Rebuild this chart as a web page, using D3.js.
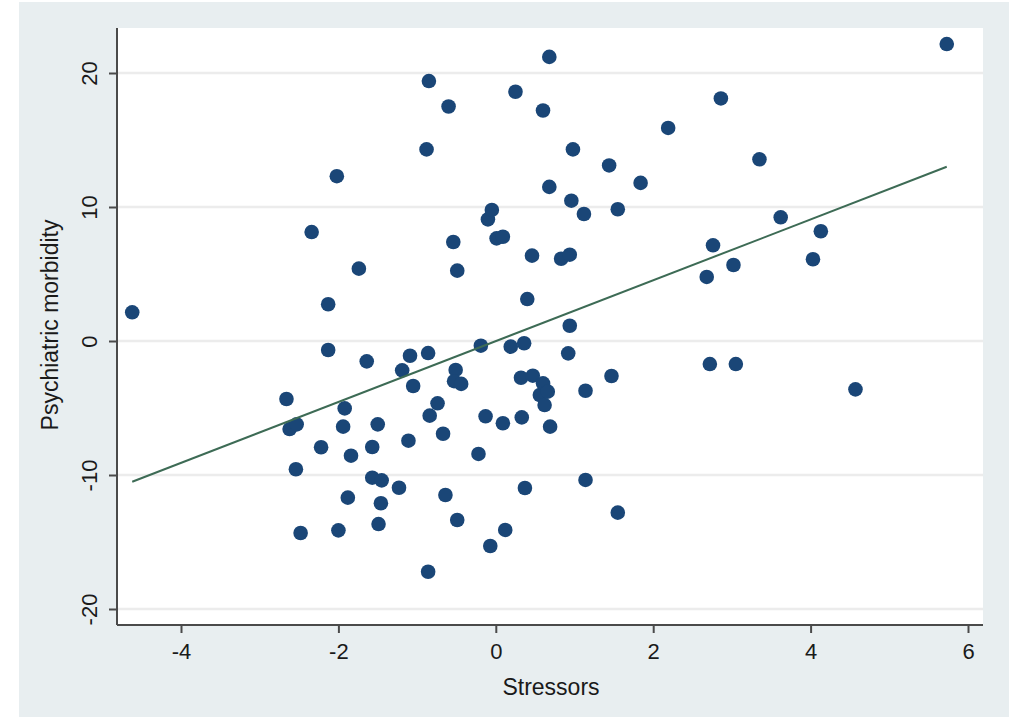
<!DOCTYPE html>
<html>
<head>
<meta charset="utf-8">
<script src="https://cdn.jsdelivr.net/npm/d3@7"></script>
<style>
  html, body { margin: 0; padding: 0; background: #ffffff; }
  svg { display: block; }
  text { font-family: "Liberation Sans", Arial, Helvetica, sans-serif; fill: #1a1a1a; }
</style>
</head>
<body>
<svg id="chart" width="1015" height="719"></svg>
<script>
// Stressors (x) vs psychiatric morbidity (y), with linear fit
const stressors = [
  -4.62, -2.66, -2.62, -2.53, -2.54, -2.48, -2.34, -2.22, -2.13, -2.13,
  -2.02, -2.00, -1.94, -1.92, -1.88, -1.84, -1.74, -1.64, -1.57, -1.57,
  -1.50, -1.49, -1.46, -1.45, -1.23, -1.19, -1.11, -1.09, -1.05, -0.88,
  -0.86, -0.86, -0.85, -0.84, -0.74, -0.67, -0.64, -0.60, -0.54, -0.51,
  -0.53, -0.44, -0.49, -0.49, -0.22, -0.19, -0.13, -0.10, -0.05, -0.07,
   0.01,  0.09,  0.09,  0.12,  0.19,  0.25,  0.32,  0.33,  0.36,  0.37,
   0.40,  0.46,  0.47,  0.56,  0.60,  0.60,  0.62,  0.66,  0.68,  0.68,
   0.69,  0.83,  0.92,  0.94,  0.94,  0.96,  0.98,  1.12,  1.14,  1.14,
   1.44,  1.47,  1.55,  1.55,  1.84,  2.19,  2.68,  2.72,  2.76,  2.86,
   3.02,  3.05,  3.35,  3.62,  4.03,  4.13,  4.57,  5.73
];
const morbidity = [
    2.14,  -4.33,  -6.57,  -6.22,  -9.57, -14.33,   8.13,  -7.93,   2.74,  -0.67,
   12.30, -14.13,  -6.39,  -5.03, -11.69,  -8.56,   5.40,  -1.52,  -7.91, -10.20,
   -6.22, -13.66, -12.11, -10.40, -10.95,  -2.19,  -7.44,  -1.10,  -3.36,  14.30,
   -0.90, -17.22,  19.40,  -5.57,  -4.65,  -6.92, -11.49,  17.50,   7.39,  -2.16,
   -3.00,  -3.20,   5.25, -13.36,  -8.43,  -0.35,  -5.62,   9.08,   9.78, -15.30,
    7.66,   7.78,  -6.14, -14.10,  -0.42,  18.60,  -2.74,  -5.70,  -0.17, -10.97,
    3.13,   6.37,  -2.59,  -4.03,  17.20,  -3.16,  -4.78,  -3.78,  21.20,  11.50,
   -6.39,   6.14,  -0.92,   6.44,   1.14,  10.47,  14.30,   9.48,  -3.71, -10.37,
   13.10,  -2.61,   9.83, -12.81,  11.80,  15.90,   4.78,  -1.72,   7.14,  18.10,
    5.67,  -1.72,  13.56,   9.23,   6.10,   8.19,  -3.61,  22.16
];
// Fitted line end points (over the observed stressor range)
const fitX = [-4.62, 5.73];
const fitY = [-10.5, 13.0];

const xTicks = [-4, -2, 0, 2, 4, 6];
const yTicks = [-20, -10, 0, 10, 20];
const xTitle = "Stressors";
const yTitle = "Psychiatric morbidity";

const svg = d3.select("#chart");

// outer graph region
svg.append("rect")
  .attr("x", 19).attr("y", 2).attr("width", 990).attr("height", 715)
  .attr("fill", "#e8eef0");

const plot = { left: 117, right: 983, top: 28, bottom: 625 };

const x = d3.scaleLinear().domain([-4, 6]).range([181, 968]);
const y = d3.scaleLinear().domain([-20, 20]).range([609, 73]);

// plot region
svg.append("rect")
  .attr("x", plot.left).attr("y", plot.top)
  .attr("width", plot.right - plot.left).attr("height", plot.bottom - plot.top)
  .attr("fill", "#ffffff");

// horizontal grid lines
svg.append("g").selectAll("line").data(yTicks).join("line")
  .attr("x1", plot.left).attr("x2", plot.right)
  .attr("y1", d => y(d)).attr("y2", d => y(d))
  .attr("stroke", "#ececec").attr("stroke-width", 2.5);

// y axis
const yAxis = svg.append("g")
  .attr("transform", `translate(${plot.left},0)`)
  .call(d3.axisLeft(y).tickValues(yTicks).tickSize(8).tickPadding(6).tickFormat(d3.format("d")));
yAxis.select(".domain").attr("d", `M0,${plot.top}V${plot.bottom}`).attr("stroke", "#4a4a4a").attr("stroke-width", 2);
yAxis.selectAll(".tick line").attr("stroke", "#4a4a4a").attr("stroke-width", 2);
yAxis.selectAll(".tick text")
  .attr("x", null).attr("dy", null)
  .attr("transform", "translate(-20,0) rotate(-90)")
  .attr("text-anchor", "middle")
  .attr("font-size", 22)
  .attr("font-family", "Liberation Sans, Arial, sans-serif")
  .attr("fill", "#1a1a1a");

// x axis
const xAxis = svg.append("g")
  .attr("transform", `translate(0,${plot.bottom})`)
  .call(d3.axisBottom(x).tickValues(xTicks).tickSize(8).tickPadding(6).tickFormat(d3.format("d")));
xAxis.select(".domain").attr("d", `M${plot.left},0H${plot.right}`).attr("stroke", "#4a4a4a").attr("stroke-width", 2);
xAxis.selectAll(".tick line").attr("stroke", "#4a4a4a").attr("stroke-width", 2);
xAxis.selectAll(".tick text")
  .attr("y", 34).attr("dy", null)
  .attr("font-size", 22)
  .attr("font-family", "Liberation Sans, Arial, sans-serif")
  .attr("fill", "#1a1a1a");
// use a plain hyphen-minus like the axis labels
xAxis.selectAll(".tick text").text(d => String(d));
yAxis.selectAll(".tick text").text(d => String(d));

// scatter points
const pts = stressors.map((s, i) => ({ s, m: morbidity[i] }));
svg.append("g").selectAll("circle").data(pts).join("circle")
  .attr("cx", d => x(d.s)).attr("cy", d => y(d.m)).attr("r", 7.3)
  .attr("fill", "#1a4677");

// linear fit
svg.append("path")
  .datum(fitX.map((v, i) => [v, fitY[i]]))
  .attr("d", d3.line().x(d => x(d[0])).y(d => y(d[1])))
  .attr("fill", "none").attr("stroke", "#3d6b55").attr("stroke-width", 2);

// axis titles
svg.append("text")
  .attr("x", 551).attr("y", 695)
  .attr("text-anchor", "middle").attr("font-size", 23)
  .text(xTitle);
svg.append("text")
  .attr("transform", "translate(58,325) rotate(-90)")
  .attr("text-anchor", "middle").attr("font-size", 23)
  .text(yTitle);
</script>
</body>
</html>
